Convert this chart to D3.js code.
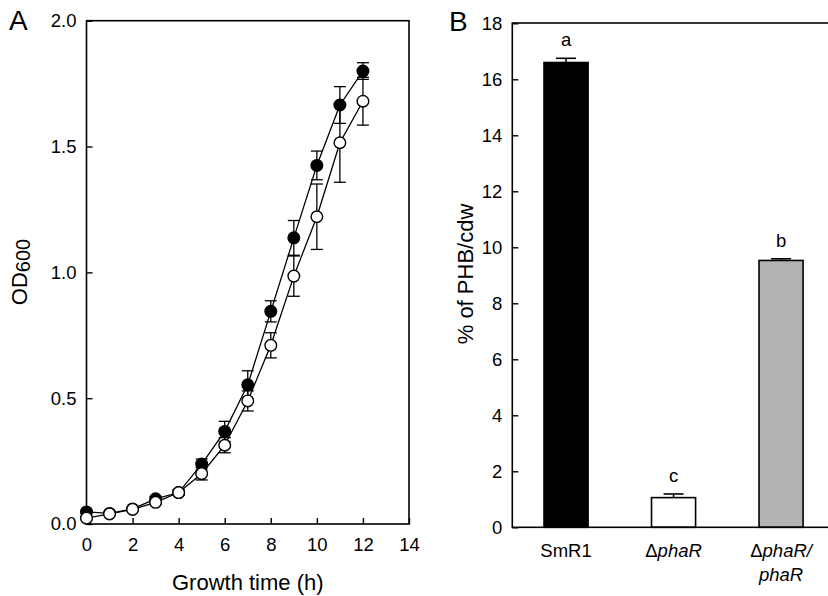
<!DOCTYPE html>
<html>
<head>
  <meta charset="UTF-8">
  <title>Growth and PHB content</title>
  <script src="https://d3js.org/d3.v7.min.js"></script>
  <style>
    body {
      margin: 0;
      background: #fff;
    }
    svg {
      display: block;
      font-family: "Liberation Sans", Arial, sans-serif;
    }
    .tick text {
      font-size: 18.5px;
      fill: #000;
    }
    .tick line {
      stroke: #000;
      stroke-width: 1.4px;
    }
    .frame {
      fill: none;
      stroke: #000;
      stroke-width: 1.6px;
    }
  </style>
</head>
<body>

  <svg width="828" height="596"></svg>

  <script>
    // panel A: growth curves (OD600 vs time)
    const hours = [0, 1, 2, 3, 4, 5, 6, 7, 8, 9, 10, 11, 12];
    const wtOD = [0.048, 0.042, 0.060, 0.100, 0.125, 0.238, 0.368, 0.553, 0.845, 1.137, 1.425, 1.665, 1.800];
    const wtErr = [0.005, 0.004, 0.005, 0.008, 0.010, 0.020, 0.040, 0.056, 0.042, 0.069, 0.057, 0.073, 0.033];
    const mutOD = [0.023, 0.040, 0.058, 0.086, 0.125, 0.200, 0.313, 0.489, 0.710, 0.985, 1.221, 1.515, 1.680];
    const mutErr = [0.004, 0.004, 0.005, 0.007, 0.010, 0.025, 0.030, 0.040, 0.050, 0.080, 0.130, 0.157, 0.095];
    const xTicksA = [0, 2, 4, 6, 8, 10, 12, 14];
    const yTicksA = [0, 0.5, 1.0, 1.5, 2.0];

    // panel B: PHB content
    const strains = ["SmR1", "\u0394phaR", "\u0394phaR/phaR"];
    const phb = [16.6, 1.06, 9.53];
    const phbErr = [0.15, 0.13, 0.06];
    const phbGroup = ["a", "c", "b"];
    const yTicksB = [0, 2, 4, 6, 8, 10, 12, 14, 16, 18];

    const svg = d3.select("svg");

    // ---------- panel A ----------
    const A = { left: 86.5, right: 409, top: 20.7, bottom: 524 };

    const xA = d3.scaleLinear().domain([0, 14]).range([A.left, A.right]);
    const yA = d3.scaleLinear().domain([0, 2]).range([A.bottom, A.top]);

    const gA = svg.append("g");

    gA.append("g")
      .attr("transform", `translate(0,${A.bottom})`)
      .call(d3.axisBottom(xA).tickValues(xTicksA).tickSizeInner(-6).tickSizeOuter(0).tickPadding(14))
      .attr("font-family", null)
      .call(g => g.select(".domain").remove());

    gA.append("g")
      .attr("transform", `translate(${A.left},0)`)
      .call(d3.axisLeft(yA).tickValues(yTicksA).tickFormat(d3.format(".1f")).tickSizeInner(-6).tickSizeOuter(0).tickPadding(10))
      .attr("font-family", null)
      .call(g => g.select(".domain").remove());

    gA.append("rect")
      .attr("class", "frame")
      .attr("x", A.left)
      .attr("y", A.top)
      .attr("width", A.right - A.left)
      .attr("height", A.bottom - A.top);

    const seriesA = [
      { mean: wtOD, err: wtErr, fill: "#000" },
      { mean: mutOD, err: mutErr, fill: "#fff" }
    ];

    const line = d3.line().x(d => xA(d.t)).y(d => yA(d.v));

    seriesA.forEach(s => {
      const pts = hours.map((t, i) => ({ t: t, v: s.mean[i], e: s.err[i] }));

      gA.append("path")
        .datum(pts)
        .attr("d", line)
        .attr("fill", "none")
        .attr("stroke", "#000")
        .attr("stroke-width", 1.3);

      // error bars
      const eb = gA.append("g").selectAll("g")
        .data(pts)
        .enter()
        .append("g")
        .attr("stroke", "#000")
        .attr("stroke-width", 1.3);

      eb.append("line")
        .attr("x1", d => xA(d.t)).attr("x2", d => xA(d.t))
        .attr("y1", d => yA(d.v - d.e)).attr("y2", d => yA(d.v + d.e));
      eb.append("line")
        .attr("x1", d => xA(d.t) - 6).attr("x2", d => xA(d.t) + 6)
        .attr("y1", d => yA(d.v + d.e)).attr("y2", d => yA(d.v + d.e));
      eb.append("line")
        .attr("x1", d => xA(d.t) - 6).attr("x2", d => xA(d.t) + 6)
        .attr("y1", d => yA(d.v - d.e)).attr("y2", d => yA(d.v - d.e));

      gA.append("g").selectAll("circle")
        .data(pts)
        .enter()
        .append("circle")
        .attr("cx", d => xA(d.t))
        .attr("cy", d => yA(d.v))
        .attr("r", 5.8)
        .attr("fill", s.fill)
        .attr("stroke", "#000")
        .attr("stroke-width", 1.4);
    });

    gA.append("text")
      .attr("x", (A.left + A.right) / 2)
      .attr("y", 590)
      .attr("text-anchor", "middle")
      .attr("font-size", 22)
      .text("Growth time (h)");

    const odLabel = gA.append("text")
      .attr("transform", "translate(27,272) rotate(-90)")
      .attr("text-anchor", "middle")
      .attr("font-size", 22);
    odLabel.append("tspan").text("OD");
    odLabel.append("tspan").attr("font-size", 20).attr("dy", 3).text("600");

    svg.append("text")
      .attr("x", 9)
      .attr("y", 30)
      .attr("font-size", 28)
      .text("A");

    // ---------- panel B ----------
    const B = { left: 512.3, right: 834.8, top: 23, bottom: 527.3 };

    const xB = d3.scaleBand()
      .domain(strains)
      .range([B.left, B.right])
      .paddingInner(0.59)
      .paddingOuter(0.295);

    const yB = d3.scaleLinear().domain([0, 18]).range([B.bottom, 23.3]);

    const color = d3.scaleOrdinal().domain(strains).range(["#000", "#fff", "#b3b3b3"]);

    const gB = svg.append("g");

    gB.append("g")
      .attr("transform", `translate(${B.left},0)`)
      .call(d3.axisLeft(yB).tickValues(yTicksB).tickSizeInner(-6).tickSizeOuter(0).tickPadding(10))
      .attr("font-family", null)
      .call(g => g.select(".domain").remove());

    const xAxisB = gB.append("g")
      .attr("transform", `translate(0,${B.bottom})`)
      .call(d3.axisBottom(xB).tickSize(0).tickPadding(17))
      .attr("font-family", null)
      .call(g => g.select(".domain").remove());

    // strain names: delta upright, gene name italic, break after "/"
    xAxisB.selectAll(".tick text").each(function(d) {
      const t = d3.select(this).text("");
      const lines = d.includes("/") ? [d.slice(0, d.indexOf("/") + 1), d.slice(d.indexOf("/") + 1)] : [d];
      lines.forEach((ln, i) => {
        const row = t.append("tspan").attr("x", 0).attr("dy", i === 0 ? "0.71em" : "1.25em");
        let rest = ln;
        if (rest.startsWith("\u0394")) {
          row.text("\u0394");
          rest = rest.slice(1);
          t.append("tspan").attr("font-style", "italic").text(rest);
        } else if (rest.includes("pha")) {
          row.attr("font-style", "italic").text(rest);
        } else {
          row.text(rest);
        }
      });
    });

    gB.selectAll(".bar")
      .data(strains)
      .enter()
      .append("rect")
      .attr("class", "bar")
      .attr("x", d => xB(d))
      .attr("y", (d, i) => yB(phb[i]))
      .attr("width", xB.bandwidth())
      .attr("height", (d, i) => B.bottom - yB(phb[i]))
      .attr("fill", d => color(d))
      .attr("stroke", "#000")
      .attr("stroke-width", 1.6);

    const ebB = gB.selectAll(".err")
      .data(strains)
      .enter()
      .append("g")
      .attr("class", "err")
      .attr("stroke", "#000")
      .attr("stroke-width", 1.6);

    ebB.append("line")
      .attr("x1", d => xB(d) + xB.bandwidth() / 2)
      .attr("x2", d => xB(d) + xB.bandwidth() / 2)
      .attr("y1", (d, i) => yB(phb[i]))
      .attr("y2", (d, i) => yB(phb[i] + phbErr[i]));
    ebB.append("line")
      .attr("x1", d => xB(d) + xB.bandwidth() / 2 - 10)
      .attr("x2", d => xB(d) + xB.bandwidth() / 2 + 10)
      .attr("y1", (d, i) => yB(phb[i] + phbErr[i]))
      .attr("y2", (d, i) => yB(phb[i] + phbErr[i]));

    gB.selectAll(".grp")
      .data(strains)
      .enter()
      .append("text")
      .attr("class", "grp")
      .attr("x", d => xB(d) + xB.bandwidth() / 2)
      .attr("y", (d, i) => yB(phb[i] + phbErr[i]) - 12)
      .attr("text-anchor", "middle")
      .attr("font-size", 18.5)
      .text((d, i) => phbGroup[i]);

    gB.append("rect")
      .attr("class", "frame")
      .attr("x", B.left)
      .attr("y", B.top)
      .attr("width", B.right - B.left)
      .attr("height", B.bottom - B.top);

    gB.append("text")
      .attr("transform", "translate(473,274) rotate(-90)")
      .attr("text-anchor", "middle")
      .attr("font-size", 22)
      .text("% of PHB/cdw");

    svg.append("text")
      .attr("x", 449)
      .attr("y", 31)
      .attr("font-size", 28)
      .text("B");
  </script>

</body>
</html>
